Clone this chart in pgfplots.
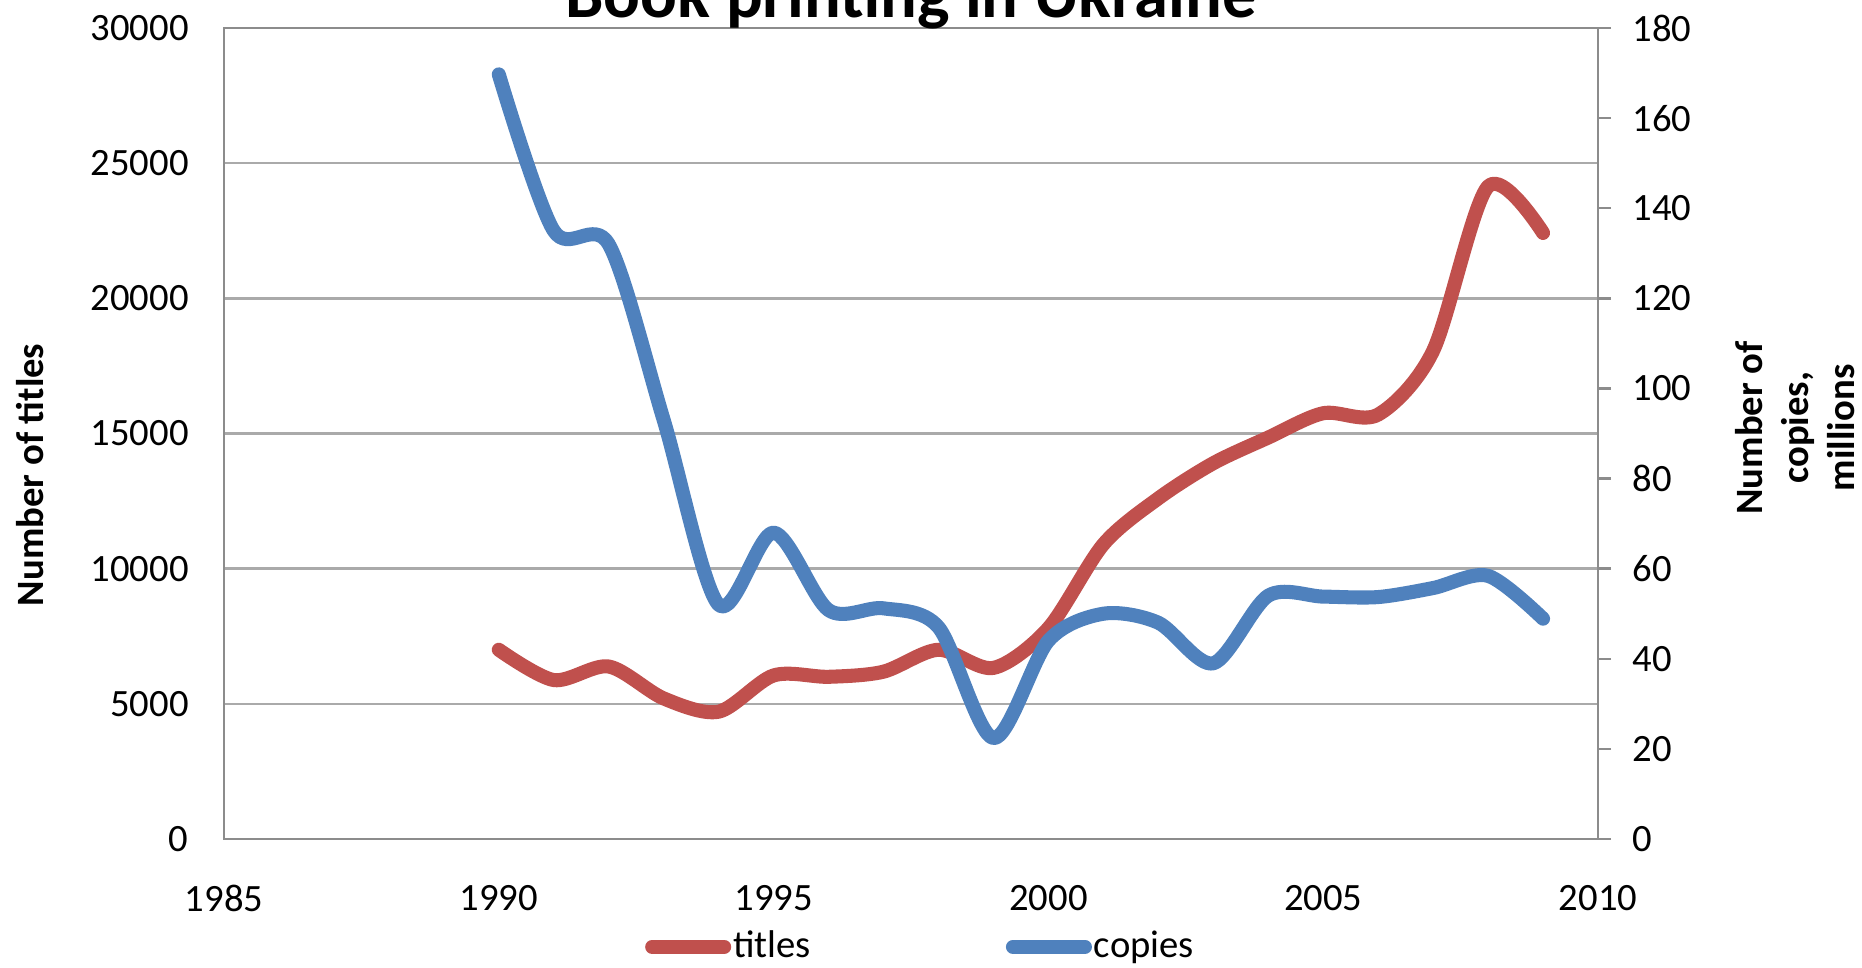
\documentclass[border=0pt]{standalone}
\usepackage{fontspec}
\setmainfont{Carlito}
\usepackage{pgfplots}
\pgfplotsset{compat=1.18}

\definecolor{titlered}{RGB}{192,80,77}
\definecolor{copyblue}{RGB}{79,129,189}
\definecolor{gridgray}{RGB}{170,170,170}
\definecolor{axisgray}{RGB}{140,140,140}

\pgfplotsset{
  bookbase/.style={
    scale only axis,
    width=13.74cm, height=8.11cm,
    xmin=1985, xmax=2010,
    scaled ticks=false,
    /pgf/number format/assume math mode=true,
    /pgf/number format/1000 sep={},
    tick label style={font=\fontsize{11}{13}\selectfont},
    axis line style={draw=axisgray, line width=0.7pt},
  },
}

\begin{document}
\begin{tikzpicture}
  \path[use as bounding box] (-2.24cm,-1.28cm) rectangle (16.38cm,8.39cm);

  % titles, left axis
  \begin{axis}[
      bookbase,
      ymin=0, ymax=30000,
      xtick={1985,1990,...,2010},
      ytick={0,5000,...,30000},
      xtick style={draw=none},
      ytick style={draw=none},
      ymajorgrids,
      grid style={draw=gridgray, line width=0.7pt},
      xticklabel style={yshift=-0.34cm},
      yticklabel style={xshift=-0.23cm},
      title={Book printing in Ukraine},
      every axis title/.style={at={(axis description cs:0.5,1)}, anchor=base, yshift=0.10cm,
                   font=\fontsize{19.5}{23}\selectfont\bfseries},
      every axis y label/.style={at={(axis description cs:-0.1412,0.449)},
                   anchor=center, rotate=90, font=\fontsize{11}{13}\selectfont\bfseries},
      ylabel={Number of titles},
    ]
    \addplot[color=titlered, line width=4pt, smooth, line cap=round, line join=round] coordinates {
      (1990,7000) (1991,5880) (1992,6380) (1993,5200) (1994,4710)
      (1995,6050) (1996,6000) (1997,6190) (1998,7000) (1999,6330)
      (2000,7800) (2001,10900) (2002,12600) (2003,13900) (2004,14850)
      (2005,15750) (2006,15700) (2007,18060) (2008,24140) (2009,22420)
    };
  \end{axis}

  % copies, right axis
  \begin{axis}[
      bookbase,
      ymin=0, ymax=180,
      ytick={0,20,...,180},
      axis x line=none,
      axis y line*=right,
      tick align=outside,
      major tick length=0.13cm,
      ytick style={draw=axisgray, line width=0.7pt},
      yticklabel style={xshift=0.09cm},
      every axis y label/.style={at={(axis description cs:1.1434,0.507)},
                   anchor=center, rotate=90, align=center,
                   font=\fontsize{11}{13}\selectfont\bfseries},
      ylabel={Number of\\copies,\\millions},
      legend columns=2,
      legend style={at={(axis description cs:0.306,-0.133)}, anchor=west,
                    draw=none, fill=none, inner sep=0pt,
                    font=\fontsize{11}{13}\selectfont,
                    nodes={inner sep=0.02cm},
                    /tikz/every even column/.append style={column sep=1.93cm}},
      legend image code/.code={\draw[#1, line cap=round] (0cm,0cm) -- (0.72cm,0cm);},
    ]
    \addlegendimage{color=titlered, line width=4pt}
    \addlegendentry{titles}
    \addplot[color=copyblue, line width=4pt, smooth, line cap=round, line join=round] coordinates {
      (1990,169.7) (1991,135) (1992,132) (1993,93) (1994,52)
      (1995,68) (1996,50.8) (1997,51.2) (1998,47) (1999,22.4)
      (2000,44) (2001,50) (2002,48) (2003,39) (2004,54)
      (2005,53.8) (2006,53.7) (2007,55.7) (2008,58.4) (2009,48.9)
    };
    \addlegendentry{copies}
  \end{axis}
\end{tikzpicture}
\end{document}
